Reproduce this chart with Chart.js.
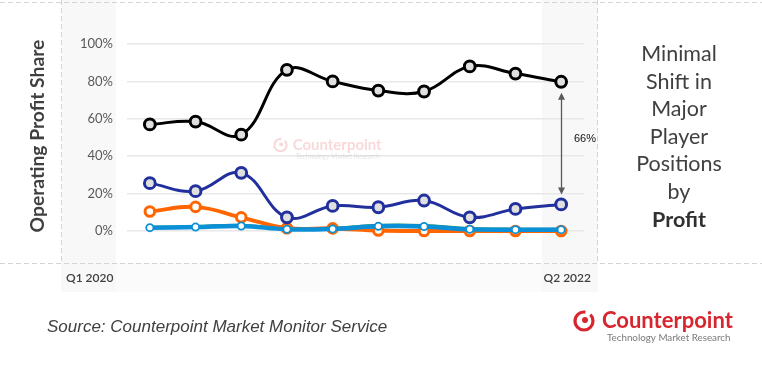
<!DOCTYPE html>
<html>
<head>
<meta charset="utf-8">
<script src="https://cdn.jsdelivr.net/npm/chart.js@4"></script>
<style>
html,body{margin:0;padding:0;background:#fff;}
#wrap{position:relative;width:762px;height:383px;overflow:hidden;}
canvas{position:absolute;left:0;top:0;}
#side{position:absolute;left:599px;top:40px;width:160px;text-align:center;font-family:Lato,"Open Sans",sans-serif;font-size:21.5px;line-height:27.6px;color:#404040;}
#side b{font-weight:700;color:#303030;}
#src{position:absolute;left:47px;top:317px;font-family:"Liberation Sans",Arial,sans-serif;font-style:italic;font-size:17px;color:#404040;white-space:nowrap;}
</style>
</head>
<body>
<div id="wrap">
<canvas id="c" width="762" height="383"></canvas>
<div id="side">Minimal<br>Shift in<br>Major<br>Player<br>Positions<br>by<br><b>Profit</b></div>
<div id="src">Source: Counterpoint Market Monitor Service</div>
</div>
<script>
const categories = ['Q1 2020','Q2 2020','Q3 2020','Q4 2020','Q1 2021','Q2 2021','Q3 2021','Q4 2021','Q1 2022','Q2 2022'];
const series1 = [57, 58.5, 51.5, 86.2, 80, 75.1, 74.6, 88, 84.2, 79.8];
const series2 = [25.6, 21.3, 31.1, 7.3, 13.4, 12.7, 16.3, 7.3, 11.8, 14.2];
const series3 = [10.4, 12.9, 7.3, 1.5, 1.4, 0.3, 0, 0, 0, 0];
const series4 = [1.8, 2.1, 2.7, 0.9, 1.1, 2.5, 2.4, 0.9, 0.7, 0.7];
const series5 = [2, 2.4, 3, 1.2, 1.5, 3.1, 3, 1.4, 1, 1];
const yTicks = [0, 20, 40, 60, 80, 100];
const gapLabel = '66%';
const yTitle = 'Operating Profit Share';

function drawLogo(ctx, x, y, alpha, sc) {
  ctx.save();
  ctx.translate(x, y);
  ctx.scale(sc, sc);
  ctx.globalAlpha = alpha;
  ctx.strokeStyle = '#d8262e';
  ctx.fillStyle = '#d8262e';
  ctx.lineWidth = 3.2;
  ctx.beginPath();
  ctx.arc(11, 12, 9, -0.25 * Math.PI, 1.55 * Math.PI);
  ctx.stroke();
  ctx.beginPath();
  ctx.arc(12, 11, 3, 0, 2 * Math.PI);
  ctx.fill();
  ctx.font = 'bold 22px Lato, "Open Sans", sans-serif';
  ctx.textBaseline = 'alphabetic';
  ctx.textAlign = 'left';
  ctx.fillText('Counterpoint', 29, 19);
  ctx.fillStyle = '#7a7a7a';
  ctx.font = '9.8px Lato, "Open Sans", sans-serif';
  ctx.fillText('Technology Market Research', 34, 32);
  ctx.restore();
}

const decor = {
  id: 'decor',
  beforeDraw(chart) {
    const ctx = chart.ctx;
    ctx.save();
    ctx.fillStyle = '#fff';
    ctx.fillRect(0, 0, 762, 383);
    ctx.fillStyle = '#f8f8f8';
    ctx.fillRect(61, 0, 55, 292);
    ctx.fillRect(542, 0, 56, 292);
    ctx.fillStyle = '#fbfbfb';
    ctx.fillRect(116, 263, 426, 29);
    ctx.strokeStyle = '#d4d4d4';
    ctx.lineWidth = 1;
    ctx.setLineDash([5, 3]);
    ctx.beginPath();
    ctx.moveTo(0, 2.5); ctx.lineTo(762, 2.5);
    ctx.moveTo(0, 263.5); ctx.lineTo(762, 263.5);
    ctx.moveTo(61.5, 0); ctx.lineTo(61.5, 263);
    ctx.moveTo(597.5, 0); ctx.lineTo(597.5, 263);
    ctx.stroke();
    ctx.setLineDash([]);
    ctx.fillStyle = '#404040';
    ctx.font = '600 12px Lato, "Open Sans", sans-serif';
    ctx.textBaseline = 'middle';
    ctx.textAlign = 'left';
    ctx.fillText(categories[0], 66, 278);
    ctx.textAlign = 'right';
    ctx.fillText(categories[categories.length - 1], 591, 278);
    ctx.save();
    ctx.translate(38, 136);
    ctx.rotate(-Math.PI / 2);
    ctx.textAlign = 'center';
    ctx.font = 'bold 19.3px Lato, "Open Sans", sans-serif';
    ctx.fillStyle = '#404040';
    ctx.fillText(yTitle, 0, 0);
    ctx.restore();
    drawLogo(ctx, 573, 309, 1, 1);
    ctx.restore();
  },
  beforeDatasetsDraw(chart) {
    drawLogo(chart.ctx, 273, 137, 0.18, 0.68);
  },
  afterDraw(chart) {
    const ctx = chart.ctx;
    const xs = chart.scales.x, ys = chart.scales.y;
    const last = categories.length - 1;
    const x = Math.round(xs.getPixelForValue(last)) + 0.5;
    const yTop = ys.getPixelForValue(series1[last]) + 11;
    const yBot = ys.getPixelForValue(series2[last]) - 10;
    ctx.save();
    ctx.strokeStyle = '#5a5a5a';
    ctx.fillStyle = '#5a5a5a';
    ctx.lineWidth = 1.3;
    ctx.beginPath();
    ctx.moveTo(x, yTop + 5); ctx.lineTo(x, yBot - 5);
    ctx.stroke();
    ctx.beginPath();
    ctx.moveTo(x, yTop); ctx.lineTo(x - 3.5, yTop + 7); ctx.lineTo(x + 3.5, yTop + 7); ctx.closePath();
    ctx.fill();
    ctx.beginPath();
    ctx.moveTo(x, yBot); ctx.lineTo(x - 3.5, yBot - 7); ctx.lineTo(x + 3.5, yBot - 7); ctx.closePath();
    ctx.fill();
    ctx.fillStyle = '#111';
    ctx.font = '11px "Liberation Sans", Arial, sans-serif';
    ctx.textAlign = 'left';
    ctx.textBaseline = 'middle';
    ctx.fillText(gapLabel, 574, 139);
    ctx.restore();
  }
};

const base = { tension: 0.4, clip: false, fill: false };
new Chart(document.getElementById('c'), {
  type: 'line',
  data: {
    labels: categories,
    datasets: [
      Object.assign({}, base, { label: 'Series 4', data: series4, borderColor: '#0b8fd6', borderWidth: 4.5,
        pointRadius: 3.6, pointBorderWidth: 1.8, pointBackgroundColor: '#fff', pointBorderColor: '#0b8fd6' }),
      Object.assign({}, base, { label: 'Series 1', data: series1, borderColor: '#000', borderWidth: 3,
        pointRadius: 5.4, pointBorderWidth: 3, pointBackgroundColor: '#e0e0e0', pointBorderColor: '#000' }),
      Object.assign({}, base, { label: 'Series 2', data: series2, borderColor: '#21309c', borderWidth: 3,
        pointRadius: 5.4, pointBorderWidth: 3, pointBackgroundColor: '#e0e0e0', pointBorderColor: '#21309c' }),
      Object.assign({}, base, { label: 'Series 3', data: series3, borderColor: '#ff6600', borderWidth: 4,
        pointRadius: 4.8, pointBorderWidth: 3, pointBackgroundColor: '#fff', pointBorderColor: '#ff6600' }),
      Object.assign({}, base, { label: 'Series 5', data: series5, borderColor: '#2a9d5a', borderWidth: 3,
        pointRadius: 0 })
    ]
  },
  options: {
    responsive: false,
    animation: false,
    layout: { padding: { left: 0, right: 178, top: 44, bottom: 152 } },
    plugins: { legend: { display: false }, tooltip: { enabled: false } },
    scales: {
      x: { type: 'category', display: false, offset: true },
      y: {
        min: 0, max: 100,
        afterFit(s) { s.width = 127; },
        afterBuildTicks(s) { s.ticks = yTicks.map(v => ({ value: v })); },
        ticks: { callback: v => v + '%', color: '#595959', padding: 14,
          font: { size: 13, family: 'Lato, "Open Sans", sans-serif' } },
        grid: { color: '#e8e8e8', lineWidth: 1.5, drawTicks: false },
        border: { display: false }
      }
    }
  },
  plugins: [decor]
});
</script>
</body>
</html>
